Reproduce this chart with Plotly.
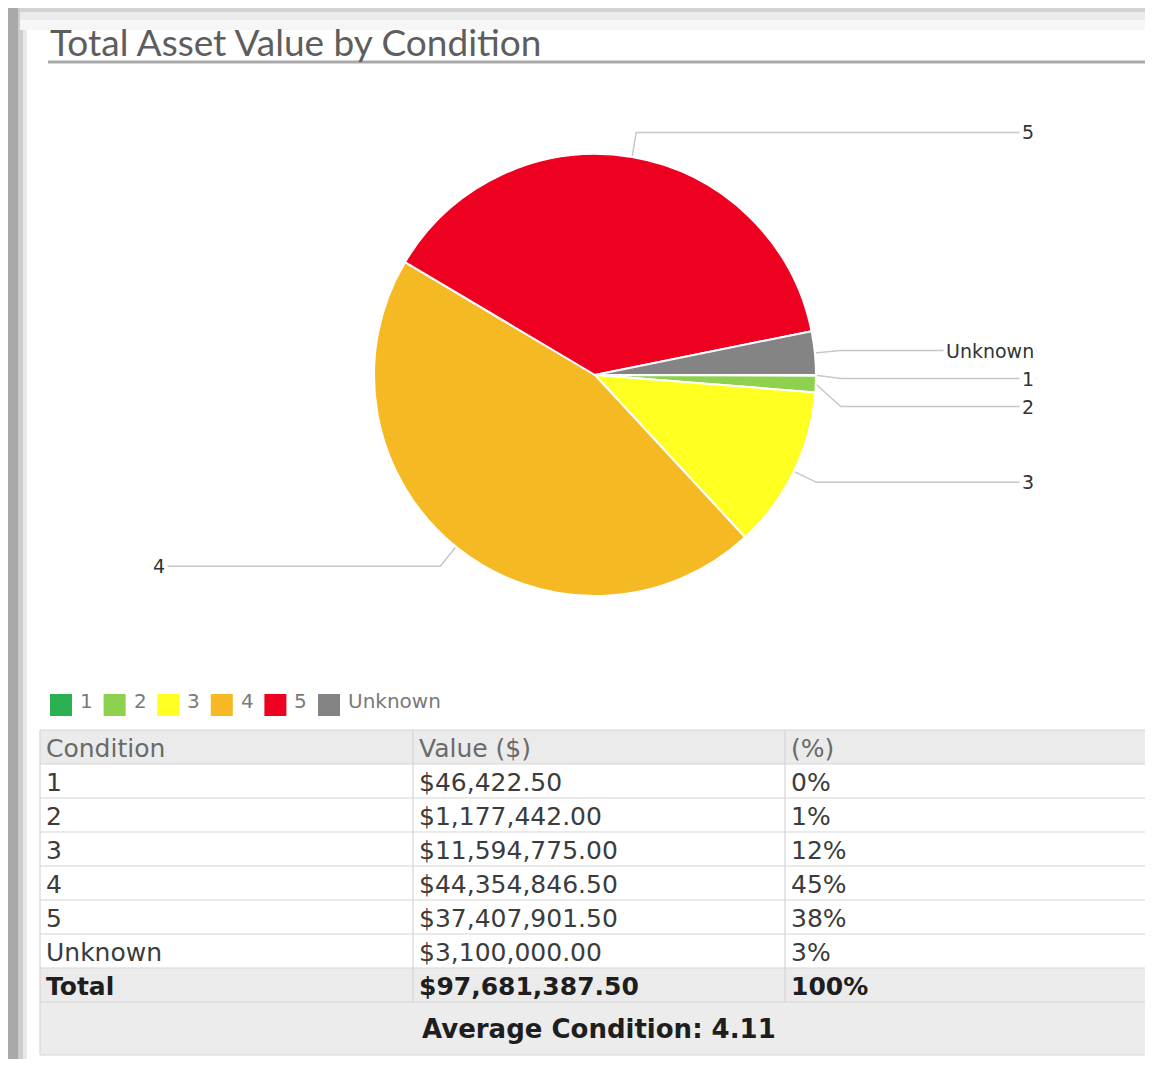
import math
import plotly.graph_objects as go

W, H = 1153, 1067      # reference image size
OFF = 8                # page body margin of the exported html
FW, FH = W - 2 * OFF, H - 2 * OFF

# ---------------- data ----------------
conditions = ["1", "2", "3", "4", "5", "Unknown"]
values = [46422.50, 1177442.00, 11594775.00, 44354846.50, 37407901.50, 3100000.00]
colors = ["#2bb04f", "#8ed14f", "#ffff22", "#f5b923", "#ee0020", "#848484"]
title_text = "Total Asset Value by Condition"
table_headers = ["Condition", "Value ($)", "(%)"]
total_label = "Total"
average_label = "Average Condition"
average_condition = 4.11

# ---------------- helpers ----------------
X_MIN, X_MAX = OFF, OFF + FW
Y_MIN, Y_MAX = OFF, OFF + FH

def px(x):
    return (x - X_MIN) / FW

def py(y):
    return 1 - (y - Y_MIN) / FH

fig = go.Figure()
shapes = []
annotations = []

# window chrome (screenshot frame)
for x0, x1, c in [(0, 18, "#a9a9a9"), (18, 23, "#cdcdcd"), (23, 27, "#e8e8e8")]:
    shapes.append(dict(type="rect", xref="x", yref="y", x0=x0, x1=x1, y0=0, y1=H,
                       fillcolor=c, line=dict(width=0), layer="below"))
for y0, y1, c in [(0, 12, "#d2d2d2"), (12, 20, "#ebebeb"), (20, 30, "#f6f6f6")]:
    shapes.append(dict(type="rect", xref="x", yref="y", x0=20, x1=W, y0=y0, y1=y1,
                       fillcolor=c, line=dict(width=0), layer="below"))

# title + underline
annotations.append(dict(x=48, y=41, xref="x", yref="y", text=title_text, showarrow=False,
                        xanchor="left", yanchor="middle",
                        font=dict(family="Lato", size=37, color="#5e5e5e")))
shapes.append(dict(type="line", xref="x", yref="y", x0=48, x1=1150, y0=62, y1=62,
                   line=dict(color="#a9a9a9", width=3)))

# ---------------- pie ----------------
cx, cy, R = 595, 375, 221
fig.add_trace(go.Pie(
    labels=conditions, values=values, sort=False, direction="clockwise", rotation=90,
    marker=dict(colors=colors, line=dict(color="white", width=2)),
    textinfo="none", hoverinfo="label+value+percent", showlegend=False,
    domain=dict(x=[px(cx - R), px(cx + R)], y=[py(cy + R), py(cy - R)]),
))

# leader lines + labels computed from the slice angles
total = sum(values)
cum = 0.0
pts = []
for lab, v in zip(conditions, values):
    frac = v / total
    mid = math.radians((cum + frac / 2) * 360)
    cum += frac
    ex, ey = cx + R * math.cos(mid), cy + R * math.sin(mid)
    bx, by = cx + (R + 25) * math.cos(mid), cy + (R + 25) * math.sin(mid)
    pts.append(dict(label=lab, ex=ex, ey=ey, bx=bx, by=by, right=math.cos(mid) >= 0))

for side in (True, False):
    group = sorted([p for p in pts if p["right"] == side], key=lambda p: p["by"])
    prev = None
    for p in group:
        if prev is not None and p["by"] < prev + 28:
            p["by"] = prev + 28
        prev = p["by"]

for p in pts:
    lx = 1037 if p["right"] else 150
    fig.add_trace(go.Scatter(x=[p["ex"], p["bx"], lx], y=[p["ey"], p["by"], p["by"]],
                             mode="lines", line=dict(color="#c8c8c8", width=1.5),
                             hoverinfo="skip", showlegend=False))
    annotations.append(dict(x=lx, y=p["by"], xref="x", yref="y", text=p["label"],
                            showarrow=False, xanchor="right" if p["right"] else "left",
                            yanchor="middle", bgcolor="white", borderpad=2,
                            font=dict(family="DejaVu Sans", size=19, color="#333333")))

# ---------------- legend (manual) ----------------
leg_x0, leg_step, leg_y = 50, 53.6, 705
for i, (lab, col) in enumerate(zip(conditions, colors)):
    x0 = leg_x0 + i * leg_step
    shapes.append(dict(type="rect", xref="x", yref="y", x0=x0, x1=x0 + 22,
                       y0=leg_y - 11, y1=leg_y + 11, fillcolor=col, line=dict(width=0)))
    annotations.append(dict(x=x0 + 28, y=leg_y - 4, xref="x", yref="y", text=lab,
                            showarrow=False, xanchor="left", yanchor="middle",
                            font=dict(family="DejaVu Sans", size=20, color="#7a7a7a")))

# ---------------- table ----------------
col_x = [40, 413, 785, W]
top, row_h = 730, 34
rows = []
for lab, v in zip(conditions, values):
    rows.append([lab, f"${v:,.2f}", f"{round(100 * v / total)}%"])
rows.append([total_label, f"${total:,.2f}", "100%"])
n_rows = len(rows) + 1  # + header
table_bottom = top + row_h * n_rows
avg_bottom = table_bottom + 53
grey = "#ebebeb"
line_c = "#d6d6d6"

# fills
shapes.append(dict(type="rect", xref="x", yref="y", x0=col_x[0], x1=W, y0=top, y1=top + row_h,
                   fillcolor=grey, line=dict(width=0), layer="below"))
shapes.append(dict(type="rect", xref="x", yref="y", x0=col_x[0], x1=W,
                   y0=table_bottom - row_h, y1=table_bottom,
                   fillcolor=grey, line=dict(width=0), layer="below"))
shapes.append(dict(type="rect", xref="x", yref="y", x0=col_x[0], x1=W,
                   y0=table_bottom, y1=avg_bottom,
                   fillcolor="#ececec", line=dict(width=0), layer="below"))
# horizontal lines
for r in range(n_rows + 1):
    y = top + r * row_h
    shapes.append(dict(type="line", xref="x", yref="y", x0=col_x[0], x1=W, y0=y, y1=y,
                       line=dict(color=line_c, width=1.2)))
shapes.append(dict(type="line", xref="x", yref="y", x0=col_x[0], x1=W, y0=avg_bottom, y1=avg_bottom,
                   line=dict(color=line_c, width=1.2)))
# vertical lines
for x in col_x[1:3]:
    shapes.append(dict(type="line", xref="x", yref="y", x0=x, x1=x, y0=top, y1=table_bottom,
                       line=dict(color=line_c, width=1.2)))
shapes.append(dict(type="line", xref="x", yref="y", x0=col_x[0], x1=col_x[0], y0=top, y1=avg_bottom,
                   line=dict(color=line_c, width=1.2)))

# text
all_rows = [table_headers] + rows
for r, row in enumerate(all_rows):
    yc = top + r * row_h + row_h / 2 + 1
    for c, txt in enumerate(row):
        if r == 0:
            t, colr = txt, "#6a6a6a"
        elif r == len(all_rows) - 1:
            t, colr = f"<b>{txt}</b>", "#1e1e1e"
        else:
            t, colr = txt, "#3c3c3c"
        annotations.append(dict(x=col_x[c] + 4, y=yc, xref="x", yref="y", text=t,
                                showarrow=False, xanchor="left", yanchor="middle",
                                font=dict(family="DejaVu Sans", size=25, color=colr)))
annotations.append(dict(x=(col_x[0] + W) / 2 + 2, y=(table_bottom + avg_bottom) / 2, xref="x", yref="y",
                        text=f"<b>{average_label}: {average_condition:.2f}</b>",
                        showarrow=False, xanchor="center", yanchor="middle",
                        font=dict(family="DejaVu Sans", size=26, color="#1e1e1e")))

fig.update_layout(
    width=FW, height=FH, margin=dict(l=0, r=0, t=0, b=0),
    paper_bgcolor="white", plot_bgcolor="rgba(0,0,0,0)",
    xaxis=dict(range=[X_MIN, X_MAX], visible=False, fixedrange=True, domain=[0, 1]),
    yaxis=dict(range=[Y_MAX, Y_MIN], visible=False, fixedrange=True, domain=[0, 1]),
    shapes=shapes, annotations=annotations, showlegend=False,
)

fig.write_html("out.html")
